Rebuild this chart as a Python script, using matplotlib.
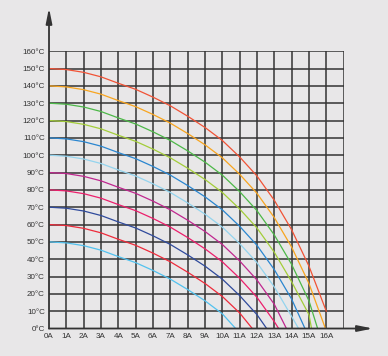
import matplotlib.pyplot as plt

# current (A) vs temperature (°C) curves
currents = list(range(17))

curves = {
    150: ([0, 1, 2, 3, 4, 5, 6, 7, 8, 9, 10, 11, 12, 13, 14, 15, 16],
          [150, 149.4, 147.8, 145.2, 141.5, 138, 133.5, 128.5, 122.5, 116, 108.5, 99, 88, 74, 57, 36, 10]),
    140: ([0, 1, 2, 3, 4, 5, 6, 7, 8, 9, 10, 11, 12, 13, 14, 15, 15.95],
          [140, 139.4, 137.8, 135.2, 131.5, 128, 123.5, 118.5, 112.5, 106, 98.5, 89, 78, 64, 47, 26, 0]),
    130: ([0, 1, 2, 3, 4, 5, 6, 7, 8, 9, 10, 11, 12, 13, 14, 15, 15.5],
          [130, 129.4, 127.8, 125.2, 121.5, 118, 113.5, 108.5, 102.5, 96, 88.5, 79, 68, 54, 37, 16, 0]),
    120: ([0, 1, 2, 3, 4, 5, 6, 7, 8, 9, 10, 11, 12, 13, 14, 15, 15.15],
          [120, 119.4, 117.8, 115.2, 111.5, 108, 103.5, 98.5, 92.5, 86, 78.5, 69, 58, 44, 27, 8, 0]),
    110: ([0, 1, 2, 3, 4, 5, 6, 7, 8, 9, 10, 11, 12, 13, 14, 14.77],
          [110, 109.4, 107.8, 105.2, 101.5, 98, 93.5, 88.5, 82.5, 76, 68.5, 59, 48, 34, 17, 0]),
    100: ([0, 1, 2, 3, 4, 5, 6, 7, 8, 9, 10, 11, 12, 13, 14, 14.4],
          [100, 99.4, 97.8, 95.2, 91.5, 88, 83.5, 78.5, 72.5, 66, 58.5, 49, 38, 24, 7, 0]),
    90: ([0, 1, 2, 3, 4, 5, 6, 7, 8, 9, 10, 11, 12, 13, 13.7],
         [90, 89.4, 87.8, 85.2, 81.5, 78, 73.5, 68.5, 62.5, 56, 48.5, 39, 28, 14, 0]),
    80: ([0, 1, 2, 3, 4, 5, 6, 7, 8, 9, 10, 11, 12, 13, 13.25],
         [80, 79.4, 77.8, 75.2, 71.5, 68, 63.5, 58.5, 52.5, 46, 38.5, 29, 18, 4, 0]),
    70: ([0, 1, 2, 3, 4, 5, 6, 7, 8, 9, 10, 11, 12, 12.56],
         [70, 69.4, 67.8, 65.2, 61.5, 58, 53.5, 48.5, 42.5, 36, 28.5, 19, 8, 0]),
    60: ([0, 1, 2, 3, 4, 5, 6, 7, 8, 9, 10, 11, 11.73],
         [60, 59.4, 57.8, 55.2, 51.5, 48, 43.5, 38.5, 32.5, 26, 18.5, 9, 0]),
    50: ([0, 1, 2, 3, 4, 5, 6, 7, 8, 9, 10, 10.77],
         [50, 49.4, 47.8, 45.2, 41.5, 38, 33.5, 28.5, 22.5, 16, 8.5, 0]),
}

colors = {
    150: "#f15336", 140: "#f8a51f", 130: "#4db848", 120: "#a3cd39",
    110: "#2a86d0", 100: "#94d4ee", 90: "#c0278f", 80: "#ec1f6c",
    70: "#2f4a9c", 60: "#ee2b3b", 50: "#52c2ef",
}

x_labels = [f"{i}A" for i in currents]
y_ticks = list(range(0, 161, 10))
y_labels = [f"{t}°C" for t in y_ticks]

bg = "#e8e7e8"
fig = plt.figure(figsize=(3.88, 3.56), dpi=100, facecolor=bg)
ax = fig.add_axes([0.1263, 0.0772, 0.7593, 0.779], facecolor=bg)

ax.set_xlim(0, 17)
ax.set_ylim(0, 160)

for x in range(1, 18):
    ax.axvline(x, color="#333333", lw=1.1, zorder=1)
for y in range(10, 161, 10):
    ax.axhline(y, color="#333333", lw=1.1, zorder=1)

for t0, (xs, ys) in curves.items():
    ax.plot(xs, ys, color=colors[t0], lw=0.9, zorder=3)

for s in ax.spines.values():
    s.set_visible(False)

# axes with arrows
ax.annotate("", xy=(0, 185), xytext=(0, 0), annotation_clip=False,
            arrowprops=dict(arrowstyle="-|>,head_length=0.9,head_width=0.18",
                            color="#333333", lw=1.3, shrinkA=0, shrinkB=0))
ax.annotate("", xy=(18.7, 0), xytext=(0, 0), annotation_clip=False,
            arrowprops=dict(arrowstyle="-|>,head_length=0.9,head_width=0.18",
                            color="#333333", lw=1.3, shrinkA=0, shrinkB=0))

font = ["Liberation Sans", "DejaVu Sans"]
ax.set_xticks(currents)
ax.set_xticklabels(x_labels, family=font, fontsize=5.8, color="#333333")
ax.set_yticks(y_ticks)
ax.set_yticklabels(y_labels, family=font, fontsize=5.8, color="#333333")
ax.tick_params(length=0, pad=3)

fig.savefig("out.png", dpi=100, facecolor=bg)
